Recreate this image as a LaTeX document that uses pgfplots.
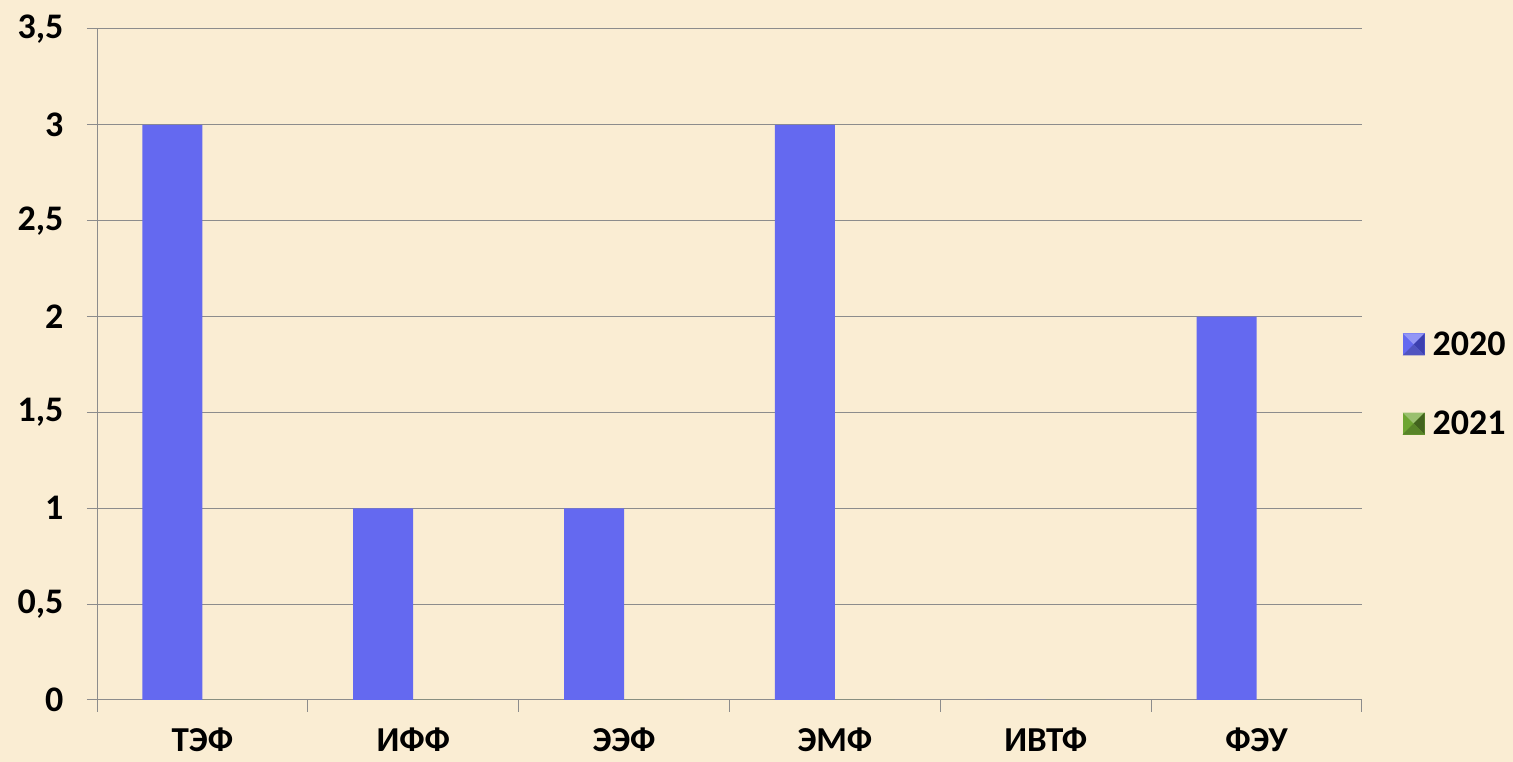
\documentclass[border=0pt]{standalone}
\usepackage{fontspec}
\setmainfont{Carlito}
\usepackage{pgfplots}
\pgfplotsset{compat=1.18}
\definecolor{bg}{RGB}{250,237,211}
\definecolor{barblue}{RGB}{100,105,240}
\definecolor{bardark}{RGB}{60,64,175}
\definecolor{bgreen}{RGB}{110,165,50}
\definecolor{gridgray}{RGB}{140,140,140}
\pgfplotstableread{
x v2020 v2021
0 3 0
1 1 0
2 1 0
3 3 0
4 0 0
5 2 0
}\datatable
\begin{document}
\begin{tikzpicture}
\fill[bg] (0,0) rectangle (1513pt,762pt);
\useasboundingbox (0,0) rectangle (1513pt,762pt);
\begin{axis}[
  at={(97pt,62pt)}, anchor=south west,
  scale only axis, width=1265pt, height=671pt,
  xmin=-0.5, xmax=5.5, ymin=0, ymax=3.5,
  axis lines*=left,
  axis line style={gridgray, line width=1pt},
  ybar=0pt, bar width=60pt,
  xtick={0,...,5},
  xticklabels={ТЭФ,ИФФ,ЭЭФ,ЭМФ,ИВТФ,ФЭУ},
  minor xtick={-0.5,0.5,...,5.5},
  major x tick style={draw=none},
  minor tick length=12pt,
  minor x tick style={gridgray, line width=1pt},
  ytick={0,0.5,...,3.5},
  major tick length=10pt,
  tick align=outside,
  y tick style={gridgray, line width=1pt},
  ymajorgrids, grid style={gridgray, line width=1pt},
  /pgf/number format/assume math mode=true,
  /pgf/number format/use comma,
  /pgf/number format/1000 sep={},
  yticklabel style={font=\fontsize{36}{42}\selectfont\bfseries, xshift=-20pt},
  xticklabel style={font=\fontsize{35}{40}\selectfont\bfseries, yshift=-14pt},
  legend style={at={(1.032,0.471)}, anchor=west, draw=none, fill=none, inner sep=0pt,
    font=\fontsize{36}{42}\selectfont\bfseries, row sep=50pt, column sep=6pt,
    legend cell align=left},
  legend image code/.code={},
]
\addplot[fill=barblue, draw=none,
  legend image code/.code={%
    \fill[barblue] (0pt,-11pt) rectangle (22pt,11pt);
    \fill[barblue!70!white] (0pt,11pt) -- (22pt,11pt) -- (11pt,0pt) -- cycle;
    \fill[bardark] (22pt,11pt) -- (22pt,-11pt) -- (11pt,0pt) -- cycle;
    \fill[barblue!80!black] (0pt,-11pt) -- (22pt,-11pt) -- (11pt,0pt) -- cycle;
  }] table[x=x, y=v2020] {\datatable};
\addlegendentry{2020}
\addplot[fill=bgreen, draw=none,
  legend image code/.code={%
    \fill[bgreen] (0pt,-11pt) rectangle (22pt,11pt);
    \fill[bgreen!70!white] (0pt,11pt) -- (22pt,11pt) -- (11pt,0pt) -- cycle;
    \fill[bgreen!60!black] (22pt,11pt) -- (22pt,-11pt) -- (11pt,0pt) -- cycle;
    \fill[bgreen!80!black] (0pt,-11pt) -- (22pt,-11pt) -- (11pt,0pt) -- cycle;
  }] table[x=x, y=v2021] {\datatable};
\addlegendentry{2021}
\end{axis}
\end{tikzpicture}
\end{document}
